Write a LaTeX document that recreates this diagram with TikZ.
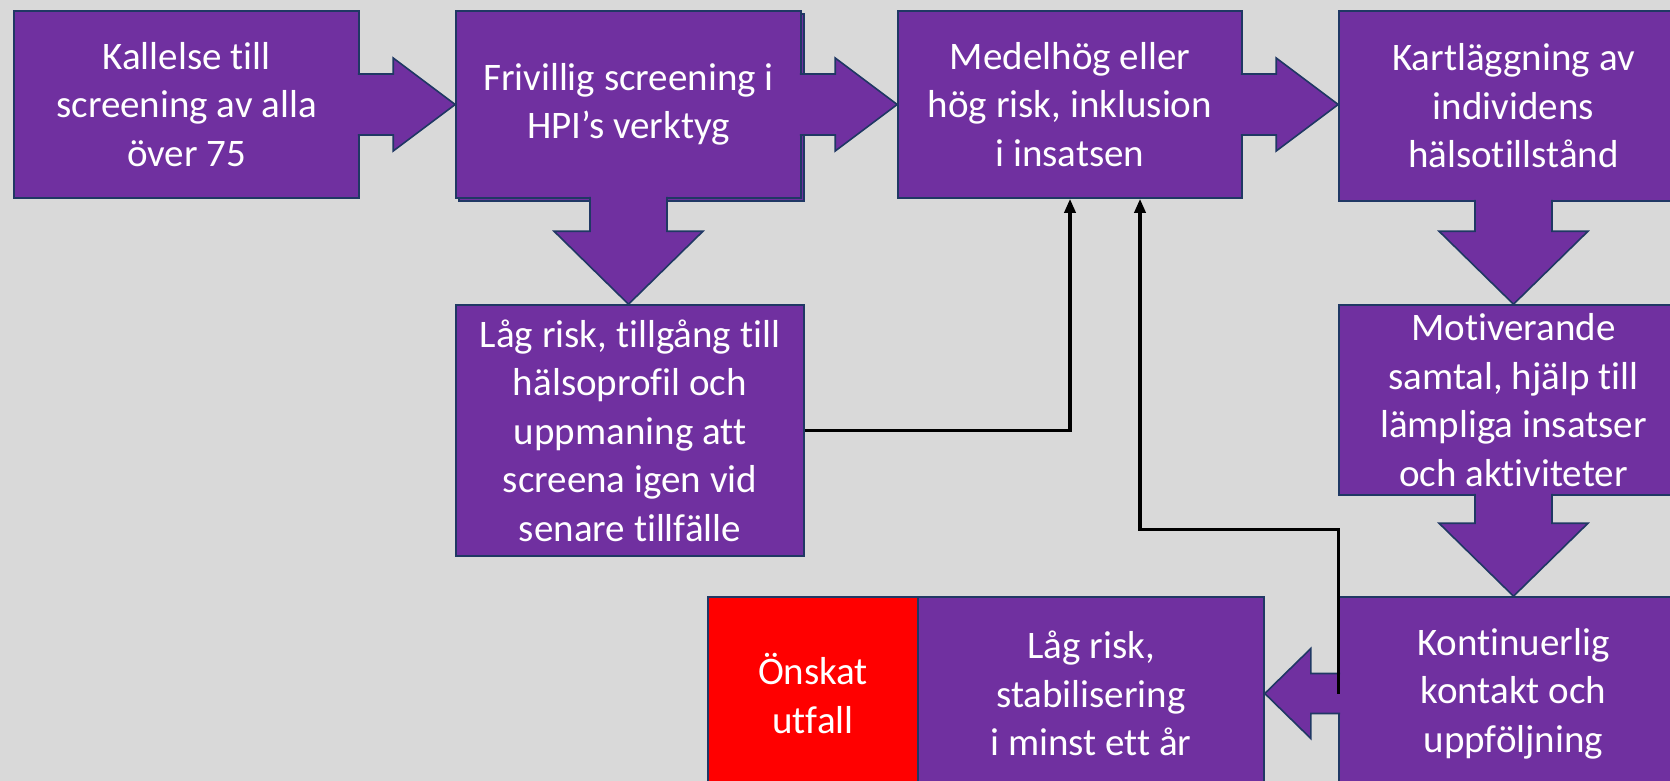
\documentclass[tikz,border=0pt]{standalone}
\usepackage{fontspec}
\setmainfont{Carlito}[Ligatures=NoCommon]
\usepackage{tikz}
\usetikzlibrary{
    positioning,
    calc,
    shadows,
    arrows.meta
}
\definecolor{bakgrund}{HTML}{D9D9D9}
\definecolor{lila}{HTML}{7030A0}
\definecolor{kant}{HTML}{203864}
\definecolor{rod}{HTML}{FF0000}
\tikzset{
    >={Triangle[length=14pt,width=11pt]},
    ruta/.style={
        rectangle,
        draw=kant,
        fill=lila,
        line width=1.6pt,
        text=white,
        align=center,
        inner sep=0pt,
        font=\fontsize{39}{48.5}\selectfont
    },
    blockpil/.style={
        fill=lila,
        draw=kant,
        line width=1.6pt,
        line join=miter
    },
    retur/.style={
        ->,
        line width=3.4pt,
        black
    }
}

% blockpilar mellan rutor
\newcommand{\pilhoger}[2]{%
    \path[blockpil]
        ($(#1.east)+(-2,-30.5)$) --
        ($(#1.east -| #2.west)+(-62,-30.5)$) --
        ($(#1.east -| #2.west)+(-62,-46.5)$) --
        (#1.east -| #2.west) --
        ($(#1.east -| #2.west)+(-62,46.5)$) --
        ($(#1.east -| #2.west)+(-62,30.5)$) --
        ($(#1.east)+(-2,30.5)$);
}
\newcommand{\pilner}[2]{%
    \path[blockpil]
        ($(#1.south)+(-38.5,-2)$) --
        ($(#1.south |- #2.north)+(-38.5,-73)$) --
        ($(#1.south |- #2.north)+(-74.5,-73)$) --
        (#1.south |- #2.north) --
        ($(#1.south |- #2.north)+(74.5,-73)$) --
        ($(#1.south |- #2.north)+(38.5,-73)$) --
        ($(#1.south)+(38.5,-2)$);
}
\newcommand{\pilvanster}[2]{%
    \path[blockpil]
        ($(#1.west)+(2,-20)$) --
        ($(#1.west -| #2.east)+(46,-20)$) --
        ($(#1.west -| #2.east)+(46,-45)$) --
        (#1.west -| #2.east) --
        ($(#1.west -| #2.east)+(46,45)$) --
        ($(#1.west -| #2.east)+(46,20)$) --
        ($(#1.west)+(2,20)$);
}

\begin{document}
\begin{tikzpicture}[
    x=1pt,
    y=-1pt
]

    \fill[bakgrund] (0,0) rectangle (1670,781);
    \useasboundingbox (0,0) rectangle (1670,781);

    % Rutor
    \node[ruta, minimum width=345, minimum height=187]
        (kallelse) at (186.5,104.5)
        {Kallelse till\\screening av alla\\över 75};
    \node[ruta, minimum width=345, minimum height=187,
          general shadow={fill=lila, draw=kant, line width=1.6pt,
                          shadow xshift=3pt, shadow yshift=-3pt}]
        (frivillig) at (628.5,104.5)
        {Frivillig screening i\\HPI’s verktyg};
    \node[ruta, minimum width=344, minimum height=187]
        (medelhog) at (1070,104.5)
        {Medelhög eller\\hög risk, inklusion\\i insatsen};
    \node[ruta, minimum width=349, minimum height=190]
        (kartl) at (1513.5,106)
        {Kartläggning av\\individens\\hälsotillstånd};

    \node[ruta, minimum width=348, minimum height=251]
        (lagrisk) at (630,430.5)
        {Låg risk, tillgång till\\hälsoprofil och\\uppmaning att\\screena igen vid\\senare tillfälle};
    \node[ruta, minimum width=349, minimum height=190]
        (motiv) at (1513.5,400)
        {Motiverande\\samtal, hjälp till\\lämpliga insatser\\och aktiviteter};

    \node[ruta, minimum width=349, minimum height=193]
        (kontakt) at (1513.5,693.5)
        {Kontinuerlig\\kontakt och\\uppföljning};
    \node[ruta, minimum width=346, minimum height=193]
        (stabil) at (1091,693.5)
        {Låg risk,\\stabilisering\\i minst ett år};
    \node[ruta, fill=rod, minimum width=210, minimum height=193]
        (utfall) at (813,693.5)
        {Önskat\\utfall};

    % Blockpilar
    \pilhoger{kallelse}{frivillig}
    \pilhoger{frivillig}{medelhog}
    \pilhoger{medelhog}{kartl}
    \pilner{frivillig}{lagrisk}
    \pilner{kartl}{motiv}
    \pilner{motiv}{kontakt}
    \pilvanster{kontakt}{stabil}

    % Tillbaka till insatsen
    \draw[retur] (lagrisk.east) -| (medelhog.south);
    \draw[retur] (kontakt.west) -- ++(0,-164)
        -| ($(medelhog.south)+(70,0)$);

\end{tikzpicture}
\end{document}
